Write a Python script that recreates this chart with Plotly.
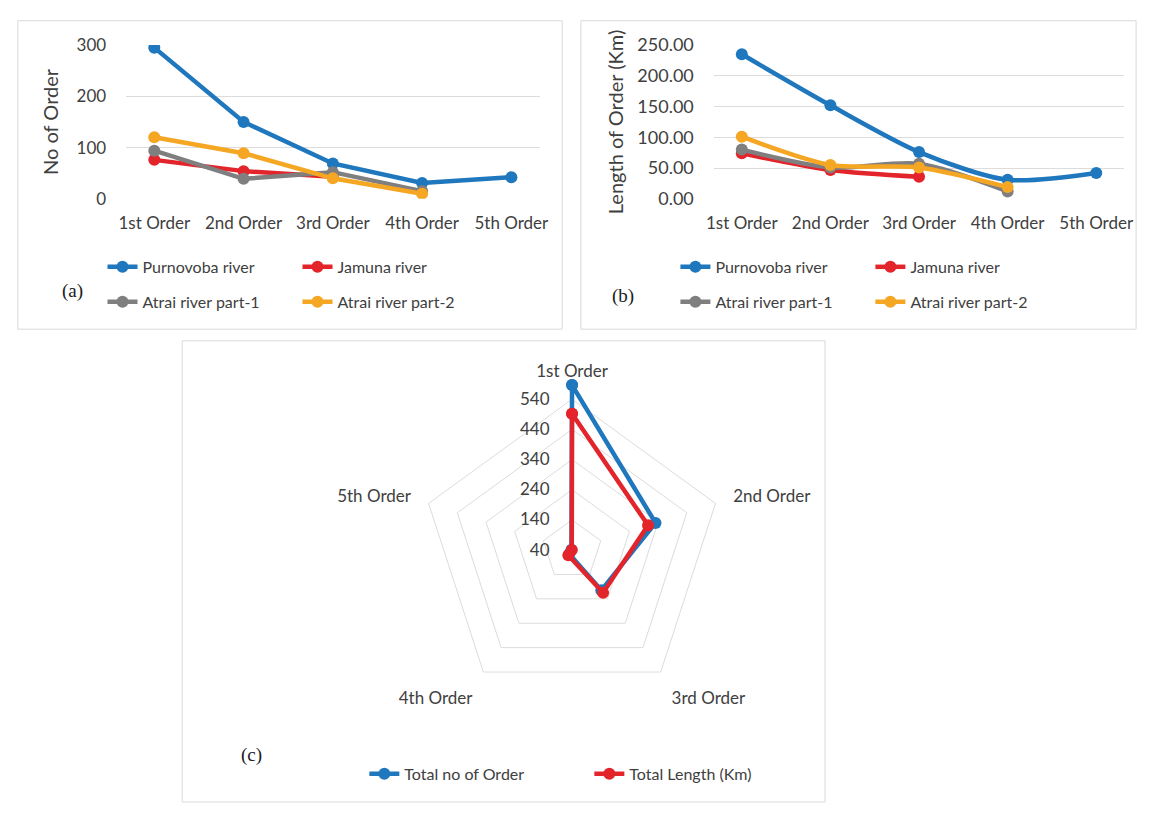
import plotly.graph_objects as go

# ---------------- data ----------------
orders = ["1st Order", "2nd Order", "3rd Order", "4th Order", "5th Order"]

# (a) number of stream segments per order
no_purnovoba = [295, 150, 69, 31, 42]
no_jamuna = [76, 54, 43]
no_atrai1 = [94, 39, 52, 15]
no_atrai2 = [120, 89, 40, 10]

# (b) length of streams per order (Km)
len_purnovoba = [235, 152, 76, 31, 42]
len_jamuna = [74, 47, 36]
len_atrai1 = [80, 51, 57, 12]
len_atrai2 = [101, 55, 51, 19]

# (c) totals
total_no = [587, 331, 205, 56, 42]
total_len = [492, 305, 215, 61, 41]

radar_ticks = [40, 140, 240, 340, 440, 540]

# ---------------- style ----------------
BLUE = "#1f77bd"
RED = "#e3242b"
GRAY = "#7f7f7f"
YELLOW = "#f5a623"
FONT = "Lato"
TXT = "#404040"
W, H = 1152, 813

def px_x(v):
    return v / W

def px_y(v):
    return 1 - v / H

fig = go.Figure()

def add_line(x, y, name, color, xa, ya, legend, shape="linear"):
    fig.add_trace(go.Scatter(
        x=x, y=y, name=name, mode="lines+markers",
        line=dict(color=color, width=4.5, shape=shape, smoothing=0.8),
        marker=dict(color=color, size=12),
        xaxis=xa, yaxis=ya, legend=legend, showlegend=True,
    ))

# panel (a)
add_line(orders[:len(no_purnovoba)], no_purnovoba, "Purnovoba river", BLUE, "x", "y", "legend")
add_line(orders[:len(no_jamuna)], no_jamuna, "Jamuna river", RED, "x", "y", "legend")
add_line(orders[:len(no_atrai1)], no_atrai1, "Atrai river part-1", GRAY, "x", "y", "legend2")
add_line(orders[:len(no_atrai2)], no_atrai2, "Atrai river part-2", YELLOW, "x", "y", "legend2")

# panel (b)
add_line(orders[:len(len_purnovoba)], len_purnovoba, "Purnovoba river", BLUE, "x2", "y2", "legend3", "spline")
add_line(orders[:len(len_jamuna)], len_jamuna, "Jamuna river", RED, "x2", "y2", "legend3", "spline")
add_line(orders[:len(len_atrai1)], len_atrai1, "Atrai river part-1", GRAY, "x2", "y2", "legend4", "spline")
add_line(orders[:len(len_atrai2)], len_atrai2, "Atrai river part-2", YELLOW, "x2", "y2", "legend4", "spline")

# panel (c) radar
for vals, name, color in [(total_no, "Total no of Order", BLUE), (total_len, "Total Length (Km)", RED)]:
    fig.add_trace(go.Scatterpolar(
        r=vals + vals[:1], theta=orders + orders[:1], name=name,
        mode="lines+markers", line=dict(color=color, width=4.5),
        marker=dict(color=color, size=12), legend="legend5", cliponaxis=False,
    ))

# ---------------- layout ----------------
ydom = [px_y(192), px_y(34)]
common_x = dict(type="category", showgrid=False, zeroline=False, showline=False, ticks="",
                ticklabelstandoff=12,
                tickfont=dict(family=FONT, size=17, color=TXT))

def yax(size):
    return dict(showgrid=True, gridcolor="#dcdcdc", gridwidth=1, zeroline=False, showline=False,
                ticks="", tickfont=dict(family=FONT, size=size, color=TXT), ticklabelstandoff=19)

legend_common = dict(orientation="h", font=dict(family=FONT, size=16, color=TXT),
                     bgcolor="rgba(0,0,0,0)", yanchor="middle", xanchor="left",
                     entrywidthmode="pixels", itemclick=False)

fig.update_layout(
    width=W, height=H, autosize=False,
    margin=dict(l=0, r=0, t=0, b=0),
    paper_bgcolor="white", plot_bgcolor="white",
    font=dict(family=FONT, color=TXT),
    xaxis=dict(domain=[px_x(120), px_x(540)], anchor="y", **common_x),
    yaxis=dict(domain=ydom, anchor="x", range=[0, 300], tickvals=[0, 100, 200, 300],
               title=dict(text="No of Order", font=dict(family=FONT, size=20, color=TXT), standoff=12),
               **yax(17)),
    xaxis2=dict(domain=[px_x(717), px_x(1134)], anchor="y2", **common_x),
    yaxis2=dict(domain=ydom, anchor="x2", range=[0, 250], tickvals=[0, 50, 100, 150, 200, 250],
                tickformat=".2f",
                title=dict(text="Length of Order (Km)", font=dict(family=FONT, size=20, color=TXT), standoff=8),
                **yax(18)),
    polar=dict(
        domain=dict(x=[px_x(573 - 173.6), px_x(573 + 173.6)], y=[px_y(553 + 173.6), px_y(553 - 173.6)]),
        bgcolor="white", gridshape="linear",
        radialaxis=dict(range=[40, 600], tickvals=radar_ticks, angle=90, tickangle=90,
                        side="counterclockwise", showline=False,
                        ticks="outside", ticklen=16, tickcolor="rgba(0,0,0,0)",
                        gridcolor="#dcdcdc", gridwidth=1,
                        tickfont=dict(family=FONT, size=17, color=TXT)),
        angularaxis=dict(rotation=90, direction="clockwise", showgrid=False, showline=False,
                         ticks="", tickfont=dict(family=FONT, size=17, color=TXT)),
    ),
    legend=dict(x=px_x(96), y=px_y(262), entrywidth=150, **legend_common),
    legend2=dict(x=px_x(96), y=px_y(298), entrywidth=150, **legend_common),
    legend3=dict(x=px_x(678), y=px_y(262), entrywidth=150, **legend_common),
    legend4=dict(x=px_x(678), y=px_y(298), entrywidth=150, **legend_common),
    legend5=dict(x=px_x(362), y=px_y(783), entrywidth=180, **legend_common),
)

# panel borders
for x0, y0, x1, y1 in [(10, 9, 563, 326), (582, 9, 1146, 326), (177, 338, 830, 812)]:
    fig.add_shape(type="rect", xref="paper", yref="paper",
                  x0=px_x(x0), x1=px_x(x1), y0=px_y(y1), y1=px_y(y0),
                  line=dict(color="#d9d9d9", width=1), fillcolor="rgba(0,0,0,0)", layer="below")

# panel labels
for lab, x, y in [("(a)", 53, 287), ("(b)", 625, 292), ("(c)", 235, 777)]:
    fig.add_annotation(text=lab, x=px_x(x), y=px_y(y), xref="paper", yref="paper",
                       showarrow=False, font=dict(family="Liberation Serif", size=19, color="#202020"))

fig.write_html("out.html", config={"displayModeBar": False},
               post_script="document.body.style.margin='0';document.body.style.overflow='hidden';")
